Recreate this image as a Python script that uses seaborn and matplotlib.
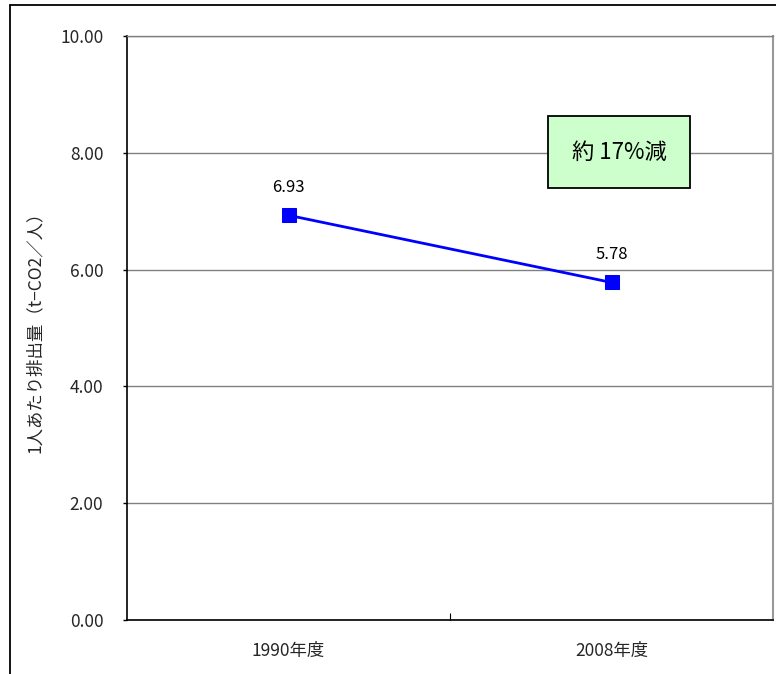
import matplotlib
matplotlib.use("Agg")
import matplotlib.pyplot as plt
import seaborn as sns
import pandas as pd
from matplotlib.patches import Rectangle
from matplotlib.lines import Line2D

categories = ["1990年度", "2008年度"]
values = [6.93, 5.78]
y_ticks = [0.0, 2.0, 4.0, 6.0, 8.0, 10.0]
ylabel = "1人あたり排出量（t−CO2／人）"
note = "約 17%減"

sns.set_theme(style="white")
plt.rcParams['font.family'] = ['Noto Sans CJK JP', 'DejaVu Sans']

df = pd.DataFrame({"cat": categories, "val": values, "x": range(len(categories))})

fig = plt.figure(figsize=(7.76, 6.74), dpi=100)
ax = fig.add_axes([127/776, 1-620/674, (773-127)/776, (620-36)/674])

sns.lineplot(data=df, x="x", y="val", ax=ax, color="#0000FF", linewidth=2.0,
             marker="s", markersize=10, markeredgecolor="#0000FF", markerfacecolor="#0000FF")

for xi, v in zip(df["x"], df["val"]):
    ax.annotate(f"{v:.2f}", (xi, v), xytext=(0, 14), textcoords="offset points",
                ha="center", va="bottom", fontsize=12, color="black")

ax.set_xlim(-0.5, len(categories) - 0.5)
ax.set_ylim(0, 10)
ax.set_yticks(y_ticks)
ax.set_yticklabels([f"{t:.2f}" for t in y_ticks], fontsize=12.5)
ax.set_xticks(list(df["x"]))
ax.set_xticklabels(categories, fontsize=12.5)
ax.tick_params(axis="x", length=0, pad=16)
ax.tick_params(axis="y", length=3, width=1, color="black", pad=14, left=True)
ax.set_xticks([0.5], minor=True)
ax.tick_params(axis="x", which="minor", direction="in", length=5, width=0.8, color="black", bottom=True)

ax.grid(axis="y", color="#808080", linewidth=1)
ax.grid(axis="x", visible=False)
ax.set_axisbelow(True)
for s in ["left", "bottom"]:
    ax.spines[s].set_color("black")
    ax.spines[s].set_linewidth(1.2)
ax.spines["right"].set_color("#999999")
ax.spines["right"].set_linewidth(1.5)
ax.spines["top"].set_color("#808080")
ax.spines["top"].set_linewidth(1)

ax.set_xlabel("")
ax.set_ylabel(ylabel, fontsize=12.5, labelpad=12)

# annotation box
ax.add_patch(Rectangle((0.652, 0.740), 0.22, 0.123, transform=ax.transAxes,
                       facecolor="#CCFFCC", edgecolor="black", linewidth=1.3, zorder=5))
ax.text(0.652 + 0.11, 0.740 + 0.0615, note, transform=ax.transAxes, ha="center", va="center",
        fontsize=16, zorder=6, color="black")

# outer border
fig.add_artist(Line2D([10/776, 10/776], [0, 1-5/674], transform=fig.transFigure, color="black", linewidth=1.3))
fig.add_artist(Line2D([10/776, 1], [1-5/674, 1-5/674], transform=fig.transFigure, color="black", linewidth=1.3))

fig.savefig("out.png", dpi=100)
